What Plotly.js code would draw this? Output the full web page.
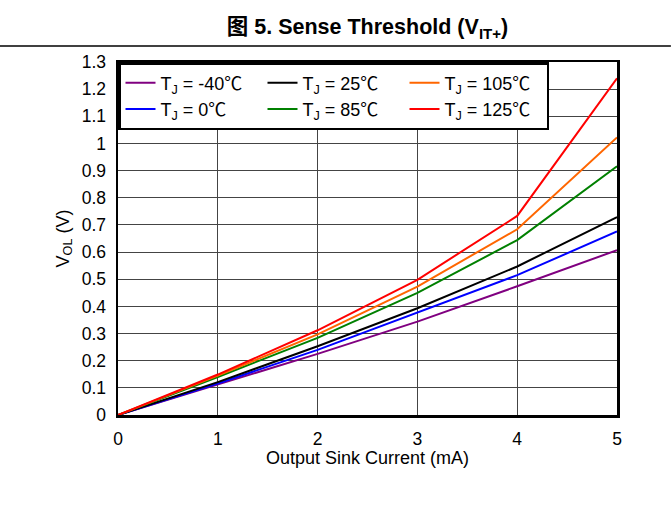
<!DOCTYPE html>
<html>
<head>
<meta charset="utf-8">
<script src="https://cdn.plot.ly/plotly-3.0.1.min.js"></script>
<style>html,body{margin:0;padding:0;background:#fff;}#chart{width:671px;height:508px;}</style>
</head>
<body>
<div id="chart"></div>
<script>
const current = [0, 1, 2, 3, 4, 5];
const seriesNames = ["T<sub>J</sub> = -40℃", "T<sub>J</sub> = 0℃", "T<sub>J</sub> = 25℃", "T<sub>J</sub> = 85℃", "T<sub>J</sub> = 105℃", "T<sub>J</sub> = 125℃"];
const vM40 = [0, 0.112, 0.225, 0.344, 0.474, 0.607];
const v0 = [0, 0.116, 0.240, 0.378, 0.515, 0.676];
const v25 = [0, 0.121, 0.253, 0.393, 0.547, 0.729];
const v85 = [0, 0.140, 0.284, 0.450, 0.644, 0.916];
const v105 = [0, 0.145, 0.297, 0.473, 0.684, 1.022];
const v125 = [0, 0.149, 0.312, 0.498, 0.733, 1.240];
const seriesValues = [vM40, v0, v25, v85, v105, v125];
const colors = ["#800080", "#0000ff", "#000000", "#008000", "#ff6600", "#ff0000"];
const legendRanks = [1, 4, 2, 5, 3, 6];
const yTicks = [0, 0.1, 0.2, 0.3, 0.4, 0.5, 0.6, 0.7, 0.8, 0.9, 1, 1.1, 1.2, 1.3];
const yTickText = ["0", "0.1", "0.2", "0.3", "0.4", "0.5", "0.6", "0.7", "0.8", "0.9", "1", "1.1", "1.2", "1.3"];

const font = "Liberation Sans, Arial, Noto Sans CJK SC, sans-serif";
const traces = seriesValues.map((vals, i) => ({
  x: current, y: vals, type: "scatter", mode: "lines",
  name: seriesNames[i], legendrank: legendRanks[i],
  line: {color: colors[i], width: 2}
}));

const layout = {
  width: 671, height: 508,
  margin: {l: 118, r: 54, t: 62, b: 93},
  paper_bgcolor: "#fff", plot_bgcolor: "#fff",
  font: {family: font, size: 17, color: "#000"},
  title: {text: "<b>图 5. Sense Threshold (V<sub>IT+</sub>)</b>", font: {family: font, size: 21.5, color: "#000"},
          xref: "paper", x: 0.5, xanchor: "center", yref: "container", y: 0.947, yanchor: "middle"},
  xaxis: {range: [0, 5], tickvals: current, ticks: "", showgrid: true, gridcolor: "#444", gridwidth: 1,
          showline: true, linecolor: "#000", linewidth: 2.5, mirror: true, zeroline: false,
          tickfont: {size: 17.5}, ticklabelstandoff: 6,
          title: {text: "Output Sink Current (mA)", font: {size: 18}, standoff: 4}},
  yaxis: {range: [0, 1.3], tickvals: yTicks, ticktext: yTickText, ticks: "", showgrid: true, gridcolor: "#444", gridwidth: 1,
          showline: true, linecolor: "#000", linewidth: 2.5, mirror: true, zeroline: false,
          tickfont: {size: 17.5}, ticklabelstandoff: 6,
          title: {text: "V<sub>OL</sub> (V)", font: {size: 18}, standoff: 8}},
  legend: {x: 0, y: 1, xanchor: "left", yanchor: "top", orientation: "h",
           entrywidth: 97, entrywidthmode: "pixels",
           bgcolor: "#fff", bordercolor: "#000", borderwidth: 2.5, font: {size: 18}, tracegroupgap: 0},
  shapes: [{type: "line", xref: "paper", yref: "paper", x0: -0.2365, x1: 1.108, y0: 1.0453, y1: 1.0453,
            line: {color: "#000", width: 1.5}}],
  showlegend: true
};
Plotly.newPlot("chart", traces, layout, {staticPlot: true, displayModeBar: false});
</script>
</body>
</html>
